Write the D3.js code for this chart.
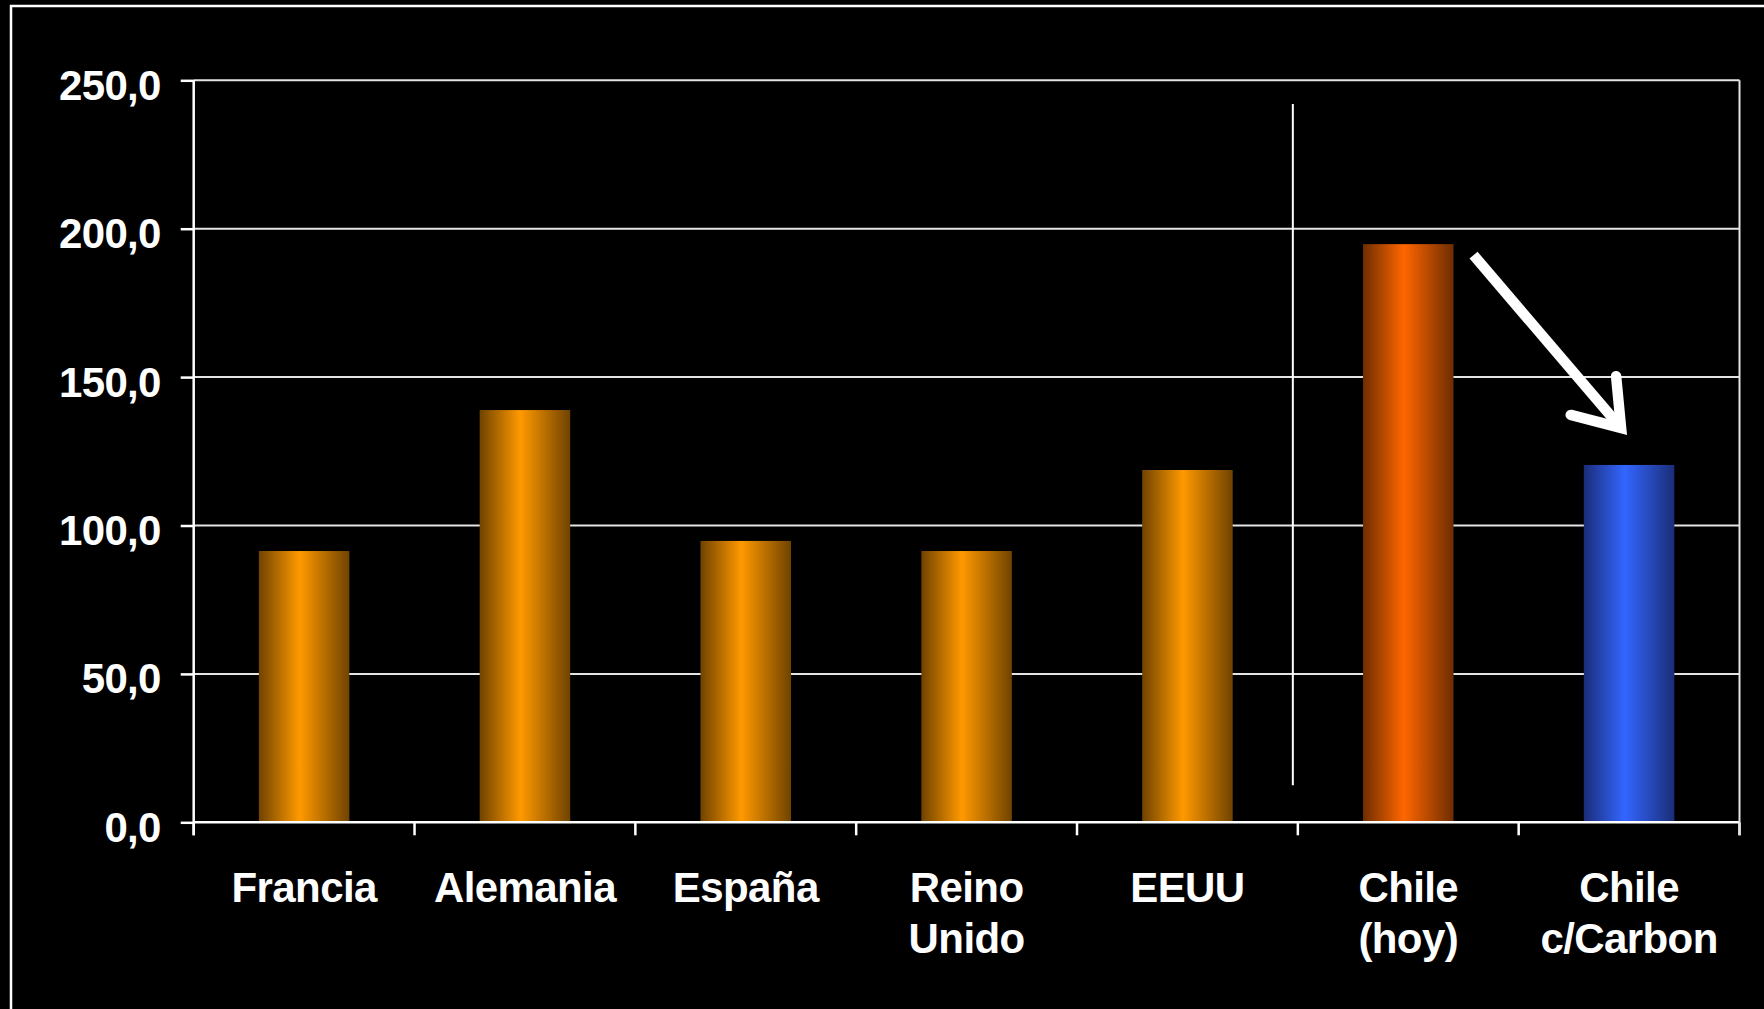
<!DOCTYPE html>
<html>
<head>
<meta charset="utf-8">
<script src="https://cdn.jsdelivr.net/npm/d3@7"></script>
<style>
  body { margin: 0; background: #000; }
  svg { display: block; }
  text { font-family: "Liberation Sans", Arial, Helvetica, sans-serif; font-weight: bold; fill: #fff; }
</style>
</head>
<body>
<div id="chart"></div>
<script>
// categorias y valores
const categories = ["Francia", "Alemania", "España", "Reino Unido", "EEUU", "Chile (hoy)", "Chile c/Carbon"];
const labelLines = [["Francia"], ["Alemania"], ["España"], ["Reino", "Unido"], ["EEUU"], ["Chile", "(hoy)"], ["Chile", "c/Carbon"]];
const values = [91.4, 138.9, 94.8, 91.4, 118.7, 194.8, 120.4];
const barKind = ["base", "base", "base", "base", "base", "hoy", "carbon"];
const yTicks = [0, 50, 100, 150, 200, 250];

const W = 1764, H = 1009;
const margin = { top: 80.3, right: 24.5, bottom: 186.7, left: 193.7 };
const width = W - margin.left - margin.right;
const height = H - margin.top - margin.bottom;

const svg = d3.select("#chart").append("svg")
    .attr("width", W)
    .attr("height", H);

svg.append("rect").attr("width", W).attr("height", H).attr("fill", "#000");

// marco exterior (cortado a la derecha y abajo)
svg.append("rect")
    .attr("x", 11).attr("y", 6)
    .attr("width", 1900).attr("height", 1200)
    .attr("fill", "none")
    .attr("stroke", "#fff")
    .attr("stroke-width", 2.5);

// gradientes tipo cilindro
const defs = svg.append("defs");
const gradColors = {
    base: ["#704300", "#ff9900"],
    hoy: ["#6e2d00", "#ff6600"],
    carbon: ["#1b2d78", "#3366ff"]
};
Object.entries(gradColors).forEach(([k, c]) => {
    const g = defs.append("linearGradient").attr("id", "grad-" + k)
        .attr("x1", "0%").attr("x2", "100%").attr("y1", "0%").attr("y2", "0%");
    g.append("stop").attr("offset", "0%").attr("stop-color", c[0]);
    g.append("stop").attr("offset", "45%").attr("stop-color", c[1]);
    g.append("stop").attr("offset", "100%").attr("stop-color", c[0]);
});

const g = svg.append("g").attr("transform", `translate(${margin.left},${margin.top})`);

const x = d3.scaleBand()
    .domain(categories)
    .range([0, width])
    .paddingInner(0.59)
    .paddingOuter(0.295);

const y = d3.scaleLinear().domain([0, 250]).range([height, 0]);

const locale = d3.formatLocale({ decimal: ",", thousands: ".", grouping: [3], currency: ["", ""] });
const fmt = locale.format(".1f");

// lineas de grilla
g.append("g")
    .selectAll("line")
    .data(yTicks.filter(d => d > 0))
    .enter().append("line")
    .attr("x1", 0).attr("x2", width)
    .attr("y1", d => y(d)).attr("y2", d => y(d))
    .attr("stroke", "#e4e4e4")
    .attr("stroke-width", 2);

// eje Y
const yAxis = g.append("g")
    .call(d3.axisLeft(y).tickValues(yTicks).tickSize(13).tickPadding(20).tickFormat(fmt));
yAxis.select(".domain").remove();
yAxis.selectAll(".tick line").attr("stroke", "#fff").attr("stroke-width", 2.5);
yAxis.selectAll(".tick text")
    .attr("fill", "#fff")
    .attr("dy", "0.45em")
    .style("font-size", "42px")
    .style("letter-spacing", "-0.7px")
    .style("font-family", "'Liberation Sans', Arial, sans-serif")
    .style("font-weight", "bold");

g.append("line")
    .attr("x1", 0).attr("x2", 0).attr("y1", 0).attr("y2", height + 13)
    .attr("stroke", "#fff").attr("stroke-width", 2.5);

// barras
const gap = (x.step() - x.bandwidth()) / 2;
g.selectAll("rect.bar")
    .data(categories)
    .enter().append("rect")
    .attr("class", "bar")
    .attr("x", d => x(d))
    .attr("y", (d, i) => y(values[i]))
    .attr("width", x.bandwidth())
    .attr("height", (d, i) => height - y(values[i]))
    .attr("fill", (d, i) => `url(#grad-${barKind[i]})`);

// eje X con marcas entre categorias
const boundaries = categories.map(c => x(c) - gap).concat([width]);
g.append("line")
    .attr("x1", 0).attr("x2", width).attr("y1", height).attr("y2", height)
    .attr("stroke", "#fff").attr("stroke-width", 2.5);
g.selectAll("line.xtick")
    .data(boundaries)
    .enter().append("line")
    .attr("class", "xtick")
    .attr("x1", d => d).attr("x2", d => d)
    .attr("y1", height).attr("y2", height + 13)
    .attr("stroke", "#fff").attr("stroke-width", 2.5);

// borde derecho
g.append("line")
    .attr("x1", width).attr("x2", width).attr("y1", 0).attr("y2", height + 13)
    .attr("stroke", "#e4e4e4").attr("stroke-width", 2);

// etiquetas
const labels = g.selectAll("text.xlabel")
    .data(categories)
    .enter().append("text")
    .attr("class", "xlabel")
    .attr("text-anchor", "middle")
    .attr("x", d => x(d) + x.bandwidth() / 2)
    .attr("y", height + 80)
    .style("font-size", "42px")
    .style("letter-spacing", "-0.6px");
labels.each(function (d, i) {
    const t = d3.select(this);
    labelLines[i].forEach((line, j) => {
        t.append("tspan")
            .attr("x", x(d) + x.bandwidth() / 2)
            .attr("dy", j === 0 ? 0 : 51)
            .text(line);
    });
});

// linea separadora
const sepX = x("Chile (hoy)") - gap - 5;
g.append("line")
    .attr("x1", sepX).attr("x2", sepX)
    .attr("y1", y(242)).attr("y2", y(12.5))
    .attr("stroke", "#fff").attr("stroke-width", 2);

// flecha
const iHoy = categories.indexOf("Chile (hoy)");
const iCarb = categories.indexOf("Chile c/Carbon");
const start = [x("Chile (hoy)") + x.bandwidth() + 20, y(values[iHoy]) + 11];
const tip = [x("Chile c/Carbon") + x.bandwidth() / 2 - 8, y(values[iCarb]) - 37];
const ang = Math.atan2(start[1] - tip[1], start[0] - tip[0]);
const armLen = 52, spread = 35 * Math.PI / 180;
const arm1 = [tip[0] + armLen * Math.cos(ang - spread), tip[1] + armLen * Math.sin(ang - spread)];
const arm2 = [tip[0] + armLen * Math.cos(ang + spread), tip[1] + armLen * Math.sin(ang + spread)];

g.append("line")
    .attr("x1", start[0]).attr("y1", start[1])
    .attr("x2", tip[0]).attr("y2", tip[1])
    .attr("stroke", "#fff").attr("stroke-width", 10.5);
g.append("path")
    .attr("d", d3.line()([arm1, tip, arm2]))
    .attr("fill", "none")
    .attr("stroke", "#fff")
    .attr("stroke-width", 10.5)
    .attr("stroke-linecap", "round")
    .attr("stroke-linejoin", "miter")
    .attr("stroke-miterlimit", 10);
</script>
</body>
</html>
